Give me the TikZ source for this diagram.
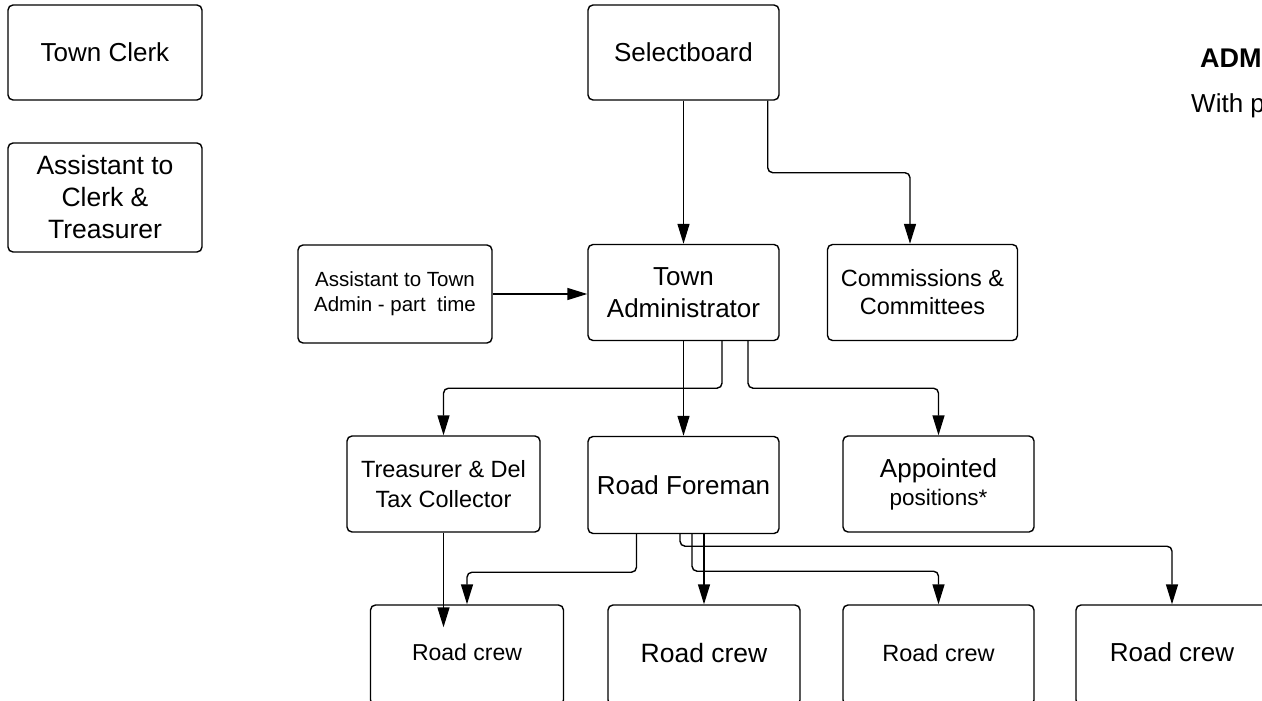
\documentclass[tikz,border=0pt]{standalone}
\usepackage{fontspec}
\setmainfont{Liberation Sans}
\usetikzlibrary{arrows.meta}
\newcommand{\fsz}[2]{\fontsize{#1pt}{#2pt}\selectfont}

\begin{document}
\begin{tikzpicture}[x=1pt,y=-1pt,
    box/.style={draw,line width=1.4pt,rounded corners=5pt,align=center,inner sep=0pt,
      minimum width=191pt,minimum height=96pt},
    crewbox/.style={box,minimum height=100pt,text depth=5pt},
    link/.style={line width=1.4pt,rounded corners=5pt,-{Triangle[length=20pt,width=12pt]}}]
  \useasboundingbox (0,0) rectangle (1262,701);
  \draw
    (105,52.5) node[box,minimum width=194pt,minimum height=95pt,font=\fsz{26}{31}] (clerk) {Town Clerk}
    (105,197.5) node[box,minimum width=194pt,minimum height=109pt,font=\fsz{26.5}{32}] (asst) {Assistant to\\Clerk \&\\Treasurer}
    (683.5,52.5) node[box,minimum height=95pt,font=\fsz{26}{31}] (sel) {Selectboard}
    (683.5,292.5) node[box,font=\fsz{26}{32}] (adm) {Town\\Administrator}
    (922.5,292.5) node[box,minimum width=190pt,font=\fsz{23.5}{28}] (com) {Commissions \&\\Committees}
    (395,294) node[box,minimum width=194pt,minimum height=98pt,font=\fsz{20.5}{25}] (ata) {Assistant to Town\\Admin - part\ \ time}
    (443.5,484) node[box,minimum width=193pt,font=\fsz{23.5}{30}] (tre) {Treasurer \& Del\\Tax Collector}
    (683.5,485) node[box,minimum height=97pt,font=\fsz{26}{31}] (rf) {Road Foreman}
    (938.5,484) node[box,font=\fsz{26}{28}] (app) {Appointed\\\fsz{22.5}{28}positions*}
    (467,655) node[crewbox,minimum width=193pt,font=\fsz{23}{28}] (crew1) {Road crew}
    (704,655) node[crewbox,minimum width=192pt,font=\fsz{26.5}{32}] (crew2) {Road crew}
    (938.5,655) node[crewbox,font=\fsz{23.5}{28}] (crew3) {Road crew}
    (1172,655) node[crewbox,minimum width=192pt,font=\fsz{26}{31}] (crew4) {Road crew};
  \node[anchor=base west,inner sep=0pt,font=\fsz{27}{32}\bfseries] (ttl) at (1200,68) {ADM};
  \node[anchor=base west,inner sep=0pt,font=\fsz{26}{31}] (sub) at (1191,112) {With p};
  \begin{scope}[link]
    \draw (sel.south) -- (adm.north);
    \draw ([xshift=-12pt]sel.south east) -- ++(0,72) -| ([xshift=-12.5pt]com.north);
    \draw (ata.east) -- (ata.east -| adm.west);
    \draw (adm.south) -- (rf.north);
    \draw ([xshift=38.5pt]adm.south) -- ++(0,47) -| (tre.north);
    \draw ([xshift=64.5pt]adm.south) -- ++(0,47) -| (app.north);
    \draw[shorten >=-23pt] (tre.south) -- (tre.south |- crew1.north);
    \draw ([xshift=-47pt]rf.south) -- ++(0,38) -| (crew1.north);
    \draw (crew2.north |- rf.south) -- (crew2.north);
    \draw ([xshift=8.5pt]rf.south) -- ++(0,37) -| (crew3.north);
    \draw ([xshift=-3.5pt]rf.south) -- ++(0,12) -| (crew4.north);
  \end{scope}
\end{tikzpicture}
\end{document}
